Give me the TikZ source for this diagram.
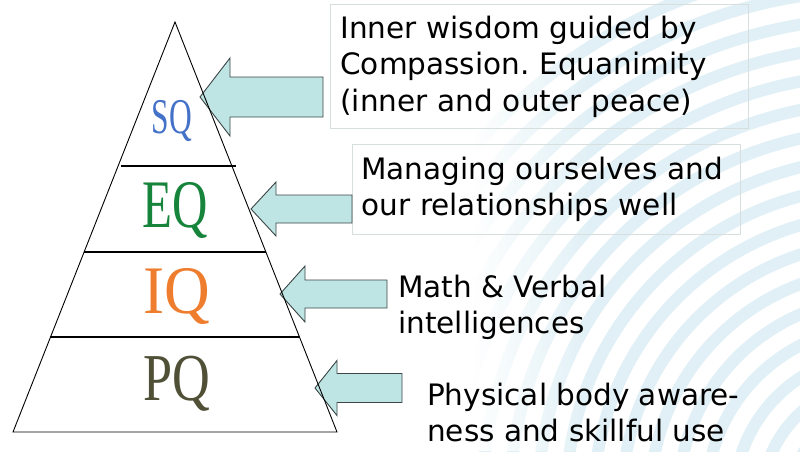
\documentclass[tikz,border=0pt]{standalone}
\usepackage{fontspec}
\usepackage{graphicx}
\setmainfont{Liberation Serif}
\newfontfamily\boxfont{DejaVu Sans}
\frenchspacing
\definecolor{arcblue}{RGB}{224,240,246}
\definecolor{arrfill}{RGB}{190,228,228}
\definecolor{arrline}{RGB}{60,70,70}
\definecolor{boxline}{RGB}{215,222,222}
\definecolor{sqcol}{RGB}{68,114,200}
\definecolor{eqcol}{RGB}{22,132,58}
\definecolor{iqcol}{RGB}{238,125,45}
\definecolor{pqcol}{RGB}{80,80,55}
\newcommand\blockarrow[7]{% name, tip x, tip y, head back x, right x, head half, shaft half
  \coordinate (#1) at (#2,#3);
  \draw[arr] (#1) -- (#4,#3-#6) -- (#4,#3-#7) -- (#5,#3-#7) -- (#5,#3+#7)
    -- (#4,#3+#7) -- (#4,#3+#6) -- cycle;}
\begin{document}
\begin{tikzpicture}[x=1pt,y=-1pt,
  arr/.style={fill=arrfill,draw=arrline,line width=0.9pt,line join=miter},
  pyr/.style={draw=black,line width=0.9pt},
  level/.style={draw=black,line width=1.5pt},
  lab/.style={anchor=base,inner sep=0pt},
  txt/.style={font=\boxfont\fontsize{29.5}{36.5}\selectfont,align=left,inner sep=0pt,anchor=north west},
  tbox/.style={txt,draw=boxline,line width=0.8pt,inner ysep=0pt},
  bgarc/.style={draw=arcblue,line width=12pt}]
\useasboundingbox (0,0) rectangle (800,451);
\fill[white] (0,0) rectangle (800,451);
% background arcs
\begin{scope}
  \clip (470,0) rectangle (800,451);
  \foreach \r in {90,118,...,560} \draw[bgarc] (880,500) circle[radius=\r pt];
  \foreach \i in {0,...,29} \fill[white,opacity={1-\i/30}] (470+4*\i,0) rectangle ++(4.3,451);
\end{scope}
% text boxes
\node[tbox,inner xsep=10pt,text width=398pt,minimum height=124pt] (t1) at (330,4)
  {Inner wisdom guided by\\Compassion. Equanimity\\(inner and outer peace)};
\node[tbox,inner xsep=9pt,text width=370pt,minimum height=90pt] (t2) at (352,144)
  {Managing ourselves and\\our relationships well};
\node[txt] (t3) at (398,274.6) {Math \& Verbal\\intelligences};
\node[txt] (t4) at (427,382.6) {Physical body aware-\\ness and skillful use};
% block arrows
\blockarrow{a1}{200}{97}{230}{323}{39}{20}
\blockarrow{a2}{251}{209}{276}{352}{27}{14}
\blockarrow{a3}{280}{294}{305}{387}{28}{14}
\blockarrow{a4}{315}{388}{337}{402}{27.5}{14.5}
% pyramid
\coordinate (apex) at (175,22);
\coordinate (bl) at (13,432);
\coordinate (br) at (337,432);
\draw[pyr] (apex) -- (bl) -- (br) -- cycle;
\coordinate (l1a) at (121,166); \coordinate (l1b) at (236,166);
\coordinate (l2a) at (84,252);  \coordinate (l2b) at (266,252);
\coordinate (l3a) at (50,337);  \coordinate (l3b) at (300,337);
\draw[level] (l1a) -- (l1b);
\draw[level] (l2a) -- (l2b);
\draw[level] (l3a) -- (l3b);
% labels
\node[lab,text=sqcol,font=\fontsize{50}{50}\selectfont] (sq) at (172,133) {\scalebox{0.63}[1]{SQ}};
\node[lab,text=eqcol,font=\fontsize{68}{68}\selectfont] (eq) at (175.5,227) {\scalebox{0.72}[1]{EQ}};
\node[lab,text=iqcol,font=\fontsize{68}{68}\selectfont] (iq) at (176.5,313) {\scalebox{0.93}[1]{IQ}};
\node[lab,text=pqcol,font=\fontsize{67}{67}\selectfont] (pq) at (176.5,400) {\scalebox{0.78}[1]{PQ}};
\end{tikzpicture}
\end{document}
